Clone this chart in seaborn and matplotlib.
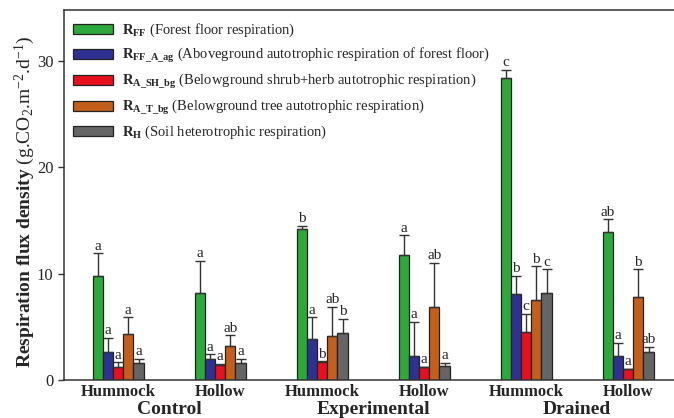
import matplotlib
matplotlib.use('Agg')
import matplotlib.pyplot as plt
import seaborn as sns
import pandas as pd
import numpy as np

# sites (treatment x microtopography)
site_keys = ["C_hum", "C_hol", "E_hum", "E_hol", "D_hum", "D_hol"]
site_ticks = ["Hummock", "Hollow", "Hummock", "Hollow", "Hummock", "Hollow"]
treatments = ["Control", "Experimental", "Drained"]

components = ["R_FF", "R_FF_A_ag", "R_A_SH_bg", "R_A_T_bg", "R_H"]
legend_labels = [
    r"$\mathbf{R_{FF}}$ (Forest floor respiration)",
    r"$\mathbf{R_{FF\_A\_ag}}$ (Aboveground autotrophic respiration of forest floor)",
    r"$\mathbf{R_{A\_SH\_bg}}$ (Belowground shrub+herb autotrophic respiration)",
    r"$\mathbf{R_{A\_T\_bg}}$ (Belowground tree autotrophic respiration)",
    r"$\mathbf{R_{H}}$ (Soil heterotrophic respiration)",
]
colors = ["#2DA83A", "#2E3192", "#E8101C", "#C45E1B", "#656565"]

# mean values (g CO2 m-2 d-1)
r_ff = [9.8, 8.2, 14.2, 11.8, 28.4, 13.9]
r_ff_a_ag = [2.6, 2.0, 3.9, 2.3, 8.1, 2.3]
r_a_sh_bg = [1.2, 1.45, 1.7, 1.2, 4.5, 1.0]
r_a_t_bg = [4.3, 3.2, 4.1, 6.9, 7.5, 7.8]
r_h = [1.6, 1.6, 4.45, 1.3, 8.2, 2.6]

# upper error
err_ff = [2.1, 3.0, 0.3, 1.8, 0.8, 1.2]
err_ff_a_ag = [1.35, 0.4, 2.0, 3.2, 1.7, 1.2]
err_a_sh_bg = [0.45, 0.1, 0.05, 0.05, 1.7, 0.05]
err_a_t_bg = [1.6, 1.0, 2.8, 4.1, 3.2, 2.6]
err_h = [0.4, 0.4, 1.3, 0.3, 2.2, 0.5]

# significance letters
let_ff = ["a", "a", "b", "a", "c", "ab"]
let_ff_a_ag = ["a", "a", "a", "a", "b", "a"]
let_a_sh_bg = ["a", "a", "b", "a", "c", "a"]
let_a_t_bg = ["a", "ab", "ab", "ab", "b", "b"]
let_h = ["a", "a", "b", "a", "c", "ab"]

means = [r_ff, r_ff_a_ag, r_a_sh_bg, r_a_t_bg, r_h]
errs = [err_ff, err_ff_a_ag, err_a_sh_bg, err_a_t_bg, err_h]
letters = [let_ff, let_ff_a_ag, let_a_sh_bg, let_a_t_bg, let_h]

rows = []
for comp, vals in zip(components, means):
    for s, v in zip(site_keys, vals):
        rows.append({"site": s, "component": comp, "value": v})
df = pd.DataFrame(rows)

sns.set_style("ticks")
plt.rcParams['font.family'] = ['Liberation Serif', 'DejaVu Serif']
plt.rcParams['mathtext.fontset'] = 'custom'
plt.rcParams['mathtext.rm'] = 'Liberation Serif'
plt.rcParams['mathtext.it'] = 'Liberation Serif:italic'
plt.rcParams['mathtext.bf'] = 'Liberation Serif:bold'

fig = plt.figure(figsize=(6.74, 4.18), dpi=100)
ax = fig.add_axes([64 / 674, 1 - 380 / 418, 610 / 674, 370 / 418])

sns.barplot(data=df, x="site", y="value", hue="component", order=site_keys,
            hue_order=components, palette=colors, width=0.5, errorbar=None,
            edgecolor="#222222", linewidth=0.9, saturation=1, ax=ax)

for cont, m, e, lt in zip(ax.containers, means, errs, letters):
    xs = [p.get_x() + p.get_width() / 2 for p in cont.patches]
    ax.errorbar(xs, m, yerr=[np.zeros(len(m)), e], fmt='none', ecolor='#333333',
                elinewidth=1.0, capsize=3.6, capthick=1.0, zorder=1)
    for x, v, ee, t in zip(xs, m, e, lt):
        ax.annotate(t, (x, v + ee), xytext=(0, 0.5), textcoords='offset points',
                    ha='center', va='bottom', fontsize=11)

ax.set_ylim(0, 34.8)
ax.set_xlim(-0.531, 5.45)
ax.set_yticks([0, 10, 20, 30])
ax.tick_params(axis='y', labelsize=12, direction='out', length=4, width=1, color='#333333')
ax.tick_params(axis='x', length=0, pad=3)
ax.set_xticks(range(len(site_keys)))
ax.set_xticklabels(site_ticks, fontsize=12, fontweight='bold')
ax.set_xlabel("")
ax.set_ylabel(r"$\mathbf{Respiration\ flux\ density}$ (g.CO$_2$.m$^{-2}$.d$^{-1}$)",
              fontsize=14)
ax.yaxis.set_label_coords(-0.045, 0.48)

trans = matplotlib.transforms.blended_transform_factory(ax.transData, ax.transAxes)
for i, t in enumerate(treatments):
    ax.text(2 * i + 0.5, -0.081, t, transform=trans, ha='center', va='center',
            fontsize=14, fontweight='bold')

for side in ['left', 'top', 'bottom']:
    ax.spines[side].set_color('#333333')
    ax.spines[side].set_linewidth(1.1)
ax.spines['right'].set_visible(False)

handles, _ = ax.get_legend_handles_labels()
ax.legend(handles, legend_labels, loc='upper left', bbox_to_anchor=(-0.004, 1.0),
          frameon=False, fontsize=10.5, handlelength=2.75, handleheight=0.65,
          labelspacing=0.48, handletextpad=0.6, borderaxespad=0.4)

fig.savefig("out.png", dpi=100)
